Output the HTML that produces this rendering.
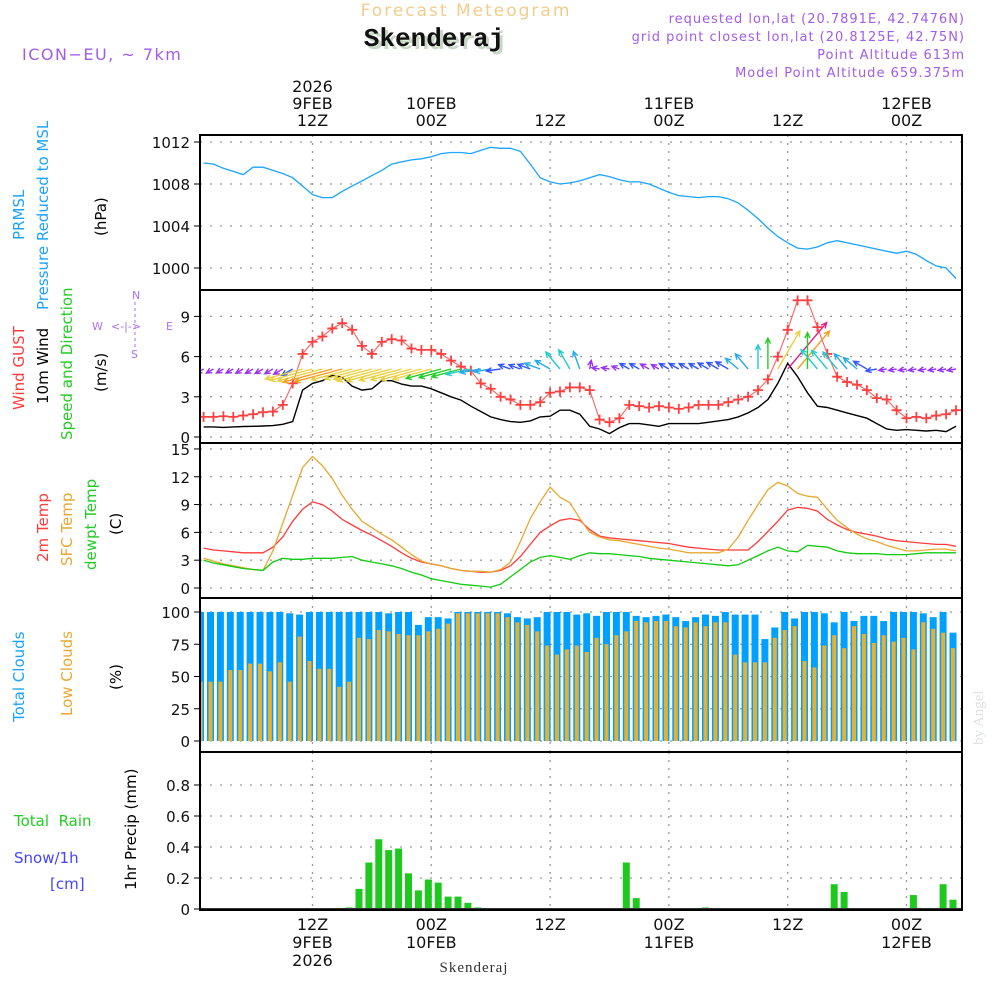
<!DOCTYPE html>
<html><head><meta charset="utf-8">
<style>
body{margin:0;background:#fff;width:1000px;height:1000px;overflow:hidden}
svg{display:block}
text{font-family:"DejaVu Sans","Liberation Sans",sans-serif}
</style></head>
<body>
<svg id="chart" width="1000" height="1000" viewBox="0 0 1000 1000" xmlns="http://www.w3.org/2000/svg">
<g>
<text x="466" y="16" font-size="17" fill="#f2cd8c" text-anchor="middle" letter-spacing="2">Forecast Meteogram</text>
<text x="437" y="49" font-size="26" font-weight="bold" style="font-family:'Liberation Mono',monospace" fill="#c8d8c4" text-anchor="middle">Skenderaj</text>
<text x="434" y="46" font-size="26" font-weight="bold" style="font-family:'Liberation Mono',monospace" fill="#111" text-anchor="middle">Skenderaj</text>
<text x="22" y="60" font-size="16" fill="#a35ce6" letter-spacing="1.5">ICON−EU, ~ 7km</text>
<g font-size="13" fill="#a35ce6" text-anchor="end" letter-spacing="1">
<text x="965" y="23">requested lon,lat (20.7891E, 42.7476N)</text>
<text x="965" y="41">grid point closest lon,lat (20.8125E, 42.75N)</text>
<text x="965" y="59">Point Altitude 613m</text>
<text x="965" y="77">Model Point Altitude 659.375m</text>
</g>
</g>
<g id="grid"></g>
<g id="marks"></g>
<g id="frames"></g>
<g id="labels"></g>
<g font-size="15">
<text transform="translate(24,240) rotate(-90)" fill="#1aa3ff">PRMSL</text>
<text transform="translate(48,310) rotate(-90)" fill="#1aa3ff">Pressure Reduced to MSL</text>
<text transform="translate(106,236) rotate(-90)" fill="#000">(hPa)</text>
<text transform="translate(24,410) rotate(-90)" fill="#ff3b3b">Wind GUST</text>
<text transform="translate(48,404) rotate(-90)" fill="#000">10m Wind</text>
<text transform="translate(72,440) rotate(-90)" fill="#22cc22">Speed and Direction</text>
<text transform="translate(106,392) rotate(-90)" fill="#000">(m/s)</text>
<text transform="translate(48,562) rotate(-90)" fill="#ff3b3b">2m Temp</text>
<text transform="translate(72,566) rotate(-90)" fill="#e8a830">SFC Temp</text>
<text transform="translate(96,570) rotate(-90)" fill="#22cc22">dewpt Temp</text>
<text transform="translate(121,535) rotate(-90)" fill="#000">(C)</text>
<text transform="translate(24,722) rotate(-90)" fill="#1aa3ff">Total Clouds</text>
<text transform="translate(72,716) rotate(-90)" fill="#e8a830">Low Clouds</text>
<text transform="translate(121,690) rotate(-90)" fill="#000">(%)</text>
<text transform="translate(136,890) rotate(-90)" fill="#000">1hr Precip (mm)</text>
<text x="14" y="826" fill="#22cc22" xml:space="preserve">Total  Rain</text>
<text x="14" y="863" fill="#4444ff">Snow/1h</text>
<text x="50" y="889" fill="#4444ff">[cm]</text>
<text x="474" y="972" text-anchor="middle" style="font-family:'Liberation Serif',serif" fill="#333" letter-spacing="1">Skenderaj</text>
<text transform="translate(983,745) rotate(-90)" style="font-family:'Liberation Serif',serif" fill="#dde3dd" font-size="15">by Angel</text>
</g>
<g font-size="11" fill="#b070e8">
<text x="132" y="299">N</text>
<text x="92" y="330">W</text>
<text x="166" y="330">E</text>
<text x="131" y="358">S</text>
<text x="111" y="330">&lt;-|-&gt;</text>
<line x1="135" y1="302" x2="135" y2="348" stroke="#b070e8" stroke-dasharray="3,3"/>
</g>
</svg>
<script>
const hours = [];
for (let i = 1; i <= 77; i++) hours.push(i);
const pressure = [1010.0,1009.9,1009.5,1009.2,1008.9,1009.6,1009.6,1009.3,1009.0,1008.6,1007.8,1007.0,1006.7,1006.7,1007.3,1007.8,1008.3,1008.8,1009.3,1009.9,1010.1,1010.3,1010.4,1010.6,1010.9,1011.0,1011.0,1010.9,1011.2,1011.5,1011.4,1011.4,1011.1,1009.9,1008.6,1008.2,1008.0,1008.1,1008.3,1008.6,1008.9,1008.7,1008.4,1008.2,1008.2,1008.0,1007.6,1007.2,1006.9,1006.8,1006.7,1006.8,1006.8,1006.6,1006.2,1005.5,1004.7,1003.8,1003.0,1002.4,1001.9,1001.8,1002.0,1002.4,1002.6,1002.4,1002.2,1002.0,1001.8,1001.6,1001.4,1001.6,1001.3,1000.7,1000.2,1000.0,999.0];
const gust = [1.5,1.5,1.55,1.5,1.6,1.7,1.85,1.9,2.4,4.0,6.2,7.1,7.5,8.1,8.5,8.0,6.8,6.2,7.1,7.3,7.2,6.6,6.5,6.5,6.2,5.7,5.25,4.95,4.0,3.6,3.0,2.8,2.4,2.4,2.6,3.3,3.4,3.7,3.7,3.5,1.3,1.1,1.4,2.4,2.3,2.2,2.3,2.2,2.1,2.2,2.4,2.4,2.4,2.6,2.8,3.0,3.5,4.3,6.0,8.0,10.2,10.2,8.2,6.2,4.5,4.1,3.9,3.5,2.9,2.8,2.0,1.4,1.5,1.4,1.6,1.7,2.0];
const wind = [0.75,0.75,0.72,0.75,0.78,0.8,0.82,0.85,0.95,1.15,3.5,4.0,4.2,4.6,4.45,3.8,3.5,3.6,4.2,4.2,3.95,3.8,3.8,3.6,3.3,3.0,2.75,2.3,1.9,1.5,1.3,1.15,1.1,1.2,1.5,1.55,2.0,2.0,1.7,0.8,0.6,0.25,0.7,1.0,1.0,0.9,0.8,1.0,1.0,1.0,1.0,1.1,1.2,1.3,1.5,1.8,2.2,2.8,4.0,5.5,4.5,3.3,2.3,2.2,2.0,1.8,1.6,1.4,1.0,0.6,0.5,0.55,0.5,0.45,0.5,0.4,0.8];
const windDir = [60,60,60,60,60,60,60,60,60,60,75,75,75,75,75,75,75,75,75,75,75,75,75,75,75,75,75,78,80,80,82,110,110,110,110,120,140,150,160,190,100,100,110,120,120,120,120,120,120,120,120,120,120,120,130,140,180,180,210,220,220,180,140,140,140,140,130,120,80,80,80,80,80,80,80,80,80];
const temp2m = [4.3,4.1,4.0,3.9,3.8,3.8,3.8,4.4,5.5,7.2,8.5,9.3,9.0,8.3,7.4,6.8,6.2,5.7,5.1,4.5,3.8,3.2,2.8,2.6,2.4,2.1,1.9,1.8,1.7,1.7,1.9,2.4,3.4,4.7,6.0,6.7,7.3,7.5,7.3,6.3,5.6,5.4,5.3,5.2,5.1,5.0,4.9,4.8,4.6,4.4,4.3,4.2,4.1,4.1,4.1,4.1,5.0,6.1,7.2,8.4,8.7,8.6,8.3,7.4,6.8,6.3,6.0,5.8,5.6,5.3,5.1,5.0,4.9,4.8,4.7,4.7,4.5];
const tempSfc = [3.2,2.9,2.6,2.4,2.2,2.0,1.9,4.0,7.0,10.0,13.0,14.2,13.2,11.8,10.0,8.5,7.2,6.5,5.8,5.2,4.4,3.6,2.9,2.6,2.4,2.1,1.9,1.8,1.8,1.7,2.0,2.8,5.0,7.5,9.3,10.9,9.8,9.2,7.5,6.0,5.5,5.2,5.1,4.9,4.7,4.5,4.3,4.2,4.0,3.8,3.8,3.8,3.8,4.2,5.5,7.3,9.0,10.6,11.4,11.0,10.2,9.9,9.8,8.5,7.3,6.5,5.8,5.3,5.0,4.6,4.3,4.0,4.0,4.1,4.2,4.2,4.0];
const dewpt = [3.0,2.7,2.5,2.3,2.1,2.0,1.9,2.8,3.2,3.1,3.1,3.2,3.2,3.2,3.3,3.4,3.0,2.8,2.6,2.4,2.1,1.7,1.4,1.0,0.8,0.6,0.4,0.3,0.2,0.1,0.4,1.2,2.0,2.8,3.3,3.5,3.3,3.1,3.5,3.8,3.7,3.7,3.6,3.5,3.4,3.2,3.1,3.0,2.9,2.8,2.7,2.6,2.5,2.4,2.5,3.0,3.5,4.0,4.4,4.0,3.9,4.6,4.5,4.4,4.0,3.8,3.7,3.7,3.7,3.6,3.6,3.6,3.7,3.8,3.8,3.8,3.8];
const totalClouds = [100,100,100,100,100,100,100,100,100,99,98,100,100,100,100,100,100,100,100,99,100,100,90,96,96,95,100,100,100,100,100,99,96,95,96,100,100,100,98,99,97,100,100,100,97,96,97,98,96,93,96,98,97,100,98,98,98,79,88,100,95,100,100,99,92,100,93,97,97,93,100,100,100,99,96,100,84];
const lowClouds = [46,46,46,55,55,60,60,54,61,46,81,62,56,56,42,46,80,79,86,85,83,82,82,85,87,91,99,99,99,99,99,96,92,90,85,74,67,71,74,69,80,75,82,85,93,92,93,93,89,88,92,89,92,92,67,61,61,61,80,86,89,62,57,74,82,72,89,83,76,82,77,80,71,92,87,84,72];
const precip = [0,0,0,0,0,0,0,0,0,0,0.005,0,0,0,0,0.01,0.13,0.30,0.45,0.38,0.39,0.23,0.12,0.19,0.17,0.08,0.08,0.04,0.01,0,0,0,0,0,0,0,0,0,0,0,0,0,0,0.30,0.07,0,0,0,0,0,0,0.01,0,0,0,0,0,0,0,0,0,0,0,0,0.16,0.11,0,0,0,0,0,0,0.09,0,0,0.16,0.06];
const pressureTicks = [1000,1004,1008,1012];
const windTicks = [0,3,6,9];
const tempTicks = [0,3,6,9,12,15];
const cloudTicks = [0,25,50,75,100];
const precipTicks = [0,0.2,0.4,0.6,0.8];
const timeTickHours = [12,24,36,48,60,72];
const timeTickTop = [["2026","9FEB","12Z"],["","10FEB","00Z"],["","","12Z"],["","11FEB","00Z"],["","","12Z"],["","12FEB","00Z"]];
const timeTickBottom = [["12Z","9FEB","2026"],["00Z","10FEB",""],["12Z","",""],["00Z","11FEB",""],["12Z","",""],["00Z","12FEB",""]];

const NS = "http://www.w3.org/2000/svg";
const L = 200, R = 962;
const xT = t => 312.5 + (t - 12) * 9.9;
const pY = v => 268 - (v - 1000) * 10.5;
const wY = v => 437 - v * 13.4;
const tY = v => 588 - v * 9.27;
const cY = v => 741 - v * 1.29;
const rY = v => 909 - v * 155;
const panels = [[135,290],[290,443],[443,598],[598,752],[752,910]];

function mk(tag, attrs, parent) {
  const e = document.createElementNS(NS, tag);
  for (const k in attrs) e.setAttribute(k, attrs[k]);
  parent.appendChild(e);
  return e;
}
const grid = document.getElementById('grid');
const marks = document.getElementById('marks');
const frames = document.getElementById('frames');
const labels = document.getElementById('labels');

const defs = mk('defs', {}, document.getElementById('chart'));
const cp = mk('clipPath', {id: 'plotclip'}, defs);
mk('rect', {x: L, y: 135, width: R - L, height: 775}, cp);
marks.setAttribute('clip-path', 'url(#plotclip)');

timeTickHours.forEach((h, i) => {
  const x = xT(h);
  panels.forEach(p => {
    const g = mk('line', {x1: x, x2: x, y1: p[0], y2: p[1], stroke: '#999', 'stroke-dasharray': '2,6', 'stroke-width': 1.3}, grid);
    
    
  });
  timeTickTop[i].forEach((s, j) => {
    if (!s) return;
    const t = mk('text', {x: x, y: 92 + j * 17, 'font-size': 16, 'text-anchor': 'middle', fill: '#111'}, labels);
    t.textContent = s;
    
    
  });
  timeTickBottom[i].forEach((s, j) => {
    if (!s) return;
    const t = mk('text', {x: x, y: 930 + j * 18, 'font-size': 16, 'text-anchor': 'middle', fill: '#111'}, labels);
    t.textContent = s;
    
    
  });
});

function yTicks(ticks, fy, name, fmt) {
  ticks.forEach(v => {
    const y = fy(v);
    const g = mk('line', {x1: L, x2: R, y1: y, y2: y, stroke: '#999', 'stroke-dasharray': '2,8', 'stroke-width': 1.3}, grid);
    
    
    const tk = mk('line', {x1: L - 6, x2: L, y1: y, y2: y, stroke: '#000', 'stroke-width': 1}, frames);
    
    
    const t = mk('text', {x: L - 10, y: y + 6, 'font-size': 15, 'text-anchor': 'end', fill: '#111'}, labels);
    t.textContent = fmt ? fmt(v) : v;
    
    
  });
}
yTicks(pressureTicks, pY, 'pressure');
yTicks(windTicks, wY, 'wind');
yTicks(tempTicks, tY, 'temp');
yTicks(cloudTicks, cY, 'cloud');
yTicks(precipTicks, rY, 'precip', v => v === 0 ? '0' : v.toFixed(1));

panels.forEach(p => {
  const r = mk('rect', {x: L, y: p[0], width: R - L, height: p[1] - p[0], fill: 'none', stroke: '#000', 'stroke-width': 2}, frames);
  
  
});

function line(arr, fy, color, name, w, dash) {
  const pts = arr.map((v, i) => xT(hours[i]).toFixed(1) + ',' + fy(v).toFixed(1)).join(' ');
  const a = {points: pts, fill: 'none', stroke: color, 'stroke-width': w || 1.3};
  if (dash) a['stroke-dasharray'] = dash;
  const e = mk('polyline', a, marks);
  
  
}

hours.forEach((h, i) => {
  const x = xT(h) - 3;
  const b = mk('rect', {x: x - 3.5, y: cY(totalClouds[i]), width: 7, height: cY(0) - cY(totalClouds[i]), fill: '#00a0ff'}, marks);
  
  
  const o = mk('rect', {x: x - 2, y: cY(lowClouds[i]), width: 4, height: cY(0) - cY(lowClouds[i]), fill: '#e8b030'}, marks);
  
  
});
hours.forEach((h, i) => {
  if (precip[i] <= 0) return;
  const x = xT(h) - 3;
  const b = mk('rect', {x: x - 3.5, y: rY(precip[i]), width: 7, height: rY(0) - rY(precip[i]), fill: '#1ec81e'}, marks);
  
  
});
const pb = mk('line', {x1: L, x2: R, y1: rY(0) - 0.5, y2: rY(0) - 0.5, stroke: '#333', 'stroke-width': 1}, marks);



line(pressure, pY, '#1aa3ff', 'pressure-line', 1.3);
line(temp2m, tY, '#ff3b3b', 'temp-2m-line', 1.3);
line(tempSfc, tY, '#e8a830', 'temp-sfc-line', 1.3);
line(dewpt, tY, '#11cc11', 'dewpoint-line', 1.3);
line(wind, wY, '#000', 'wind-speed-line', 1.4);
line(gust, wY, '#ff6060', 'gust-line', 1.1);
hours.forEach((h, i) => {
  const x = xT(h), y = wY(gust[i]);
  const c = mk('path', {d: `M${x-5},${y}h10M${x},${y-5}v10`, stroke: '#ff4040', 'stroke-width': 1.8}, marks);
  
  
});

function windColor(s) {
  if (s < 1) return '#9933ee';
  if (s < 1.5) return '#3355ff';
  if (s < 2) return '#22aaee';
  if (s < 2.5) return '#22cccc';
  if (s < 3.4) return '#22cc22';
  if (s < 4.3) return '#e8d040';
  if (s < 5) return '#f0a020';
  return '#e0208a';
}
hours.forEach((h, i) => {
  const s = wind[i];
  const bearing = (windDir[i] + 180) * Math.PI / 180;
  const len = Math.max(8, s * 11);
  const x0 = xT(h), y0 = 369;
  const dx = Math.sin(bearing), dy = -Math.cos(bearing);
  const x1 = x0 + dx * len, y1 = y0 + dy * len;
  const hl = 6, a = 0.45;
  const bx = -dx, by = -dy;
  const h1x = x1 + hl * (bx * Math.cos(a) - by * Math.sin(a)), h1y = y1 + hl * (bx * Math.sin(a) + by * Math.cos(a));
  const h2x = x1 + hl * (bx * Math.cos(-a) - by * Math.sin(-a)), h2y = y1 + hl * (bx * Math.sin(-a) + by * Math.cos(-a));
  const p = mk('path', {d: `M${x0},${y0}L${x1},${y1}M${h1x},${h1y}L${x1},${y1}L${h2x},${h2y}`, fill: 'none', stroke: windColor(s), 'stroke-width': 1.4}, marks);
  
  
});
</script>
</body></html>
